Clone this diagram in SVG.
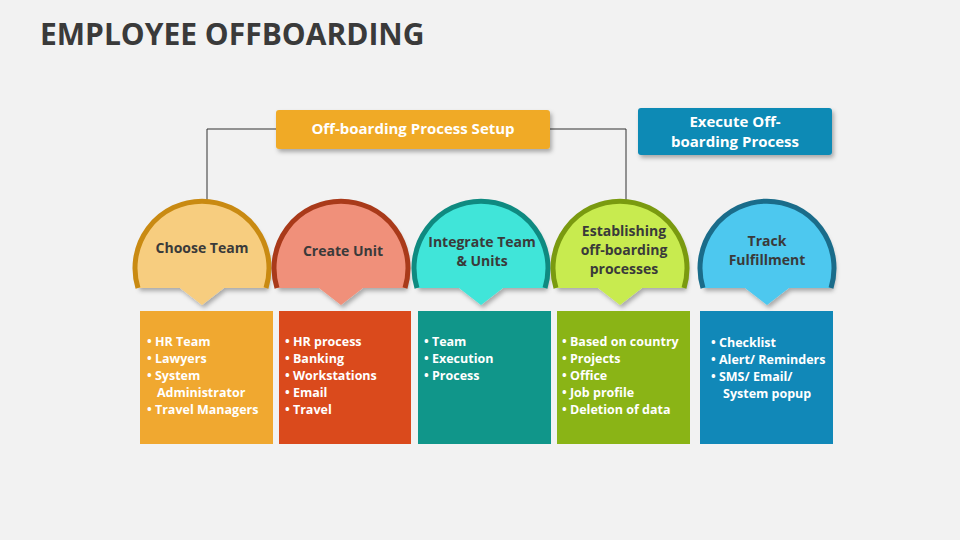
<svg xmlns="http://www.w3.org/2000/svg" width="960" height="540" viewBox="0 0 960 540">
<defs>
<style>
text{font-family:"Open Sans","Liberation Sans",sans-serif;font-weight:bold}
.t{fill:#3a3a3a;font-size:14px;text-anchor:middle}
.b{fill:#fff;font-size:12.5px}
.h{fill:#fff;font-size:15px;text-anchor:middle}
.arc{fill:none;stroke-width:5}
</style>
<filter id="sh" x="-20%" y="-20%" width="140%" height="150%"><feDropShadow dx="2" dy="3" stdDeviation="2" flood-color="#000" flood-opacity="0.3"/></filter>
<path id="bub" d="M-64,20 A67,67 0 1 1 64,20 L22,20 L0,37 L-22,20 Z"/>
<path id="arc" d="M-64,20 A67,67 0 1 1 64,20"/>
</defs>
<rect width="960" height="540" fill="#f2f2f2"/>
<text x="40" y="45" style="font-size:30px;fill:#3a3a3a">EMPLOYEE OFFBOARDING</text>
<g id="connectors" fill="none" stroke="#333" stroke-width="1">
<path d="M276,129 H207 V201"/>
<path d="M550,129 H626 V201"/>
</g>
<g id="setup"><rect x="276" y="110" width="274" height="39" rx="3" fill="#f0aa28" filter="url(#sh)"/><text class="h" x="413" y="134">Off-boarding Process Setup</text></g>
<g id="execute"><rect x="638" y="108" width="194" height="47" rx="3" fill="#0f8ab5" filter="url(#sh)"/><text class="h" x="735" y="127">Execute Off-</text><text class="h" x="735" y="147">boarding Process</text></g>
<g id="choose">
<use href="#bub" x="202" y="268" fill="#f7cd7f" filter="url(#sh)"/><use href="#arc" x="202" y="268" class="arc" stroke="#c98a12"/>
<text class="t" x="202" y="253">Choose Team</text>
<rect x="140" y="311" width="133" height="133" fill="#f0a830"/>
<text class="b"><tspan x="147" y="346">• HR Team</tspan><tspan x="147" y="363">• Lawyers</tspan><tspan x="147" y="380">• System</tspan><tspan x="157" y="397">Administrator</tspan><tspan x="147" y="414">• Travel Managers</tspan></text>
</g>
<g id="create">
<use href="#bub" x="341" y="268" fill="#f0907a" filter="url(#sh)"/><use href="#arc" x="341" y="268" class="arc" stroke="#a93a1a"/>
<text class="t" x="343" y="256">Create Unit</text>
<rect x="279" y="311" width="132" height="133" fill="#da4a1c"/>
<text class="b"><tspan x="285" y="346">• HR process</tspan><tspan x="285" y="363">• Banking</tspan><tspan x="285" y="380">• Workstations</tspan><tspan x="285" y="397">• Email</tspan><tspan x="285" y="414">• Travel</tspan></text>
</g>
<g id="integrate">
<use href="#bub" x="481" y="268" fill="#40e5d9" filter="url(#sh)"/><use href="#arc" x="481" y="268" class="arc" stroke="#0f8a80"/>
<text class="t" x="482" y="247">Integrate Team</text><text class="t" x="482" y="266">&amp; Units</text>
<rect x="418" y="311" width="133" height="133" fill="#10968a"/>
<text class="b"><tspan x="424" y="346">• Team</tspan><tspan x="424" y="363">• Execution</tspan><tspan x="424" y="380">• Process</tspan></text>
</g>
<g id="establish">
<use href="#bub" x="620" y="268" fill="#c8eb50" filter="url(#sh)"/><use href="#arc" x="620" y="268" class="arc" stroke="#7a9a10"/>
<text class="t" x="624" y="236">Establishing</text><text class="t" x="624" y="255">off-boarding</text><text class="t" x="624" y="274">processes</text>
<rect x="557" y="311" width="133" height="133" fill="#8ab416"/>
<text class="b"><tspan x="562" y="346">• Based on country</tspan><tspan x="562" y="363">• Projects</tspan><tspan x="562" y="380">• Office</tspan><tspan x="562" y="397">• Job profile</tspan><tspan x="562" y="414">• Deletion of data</tspan></text>
</g>
<g id="track">
<use href="#bub" x="767" y="268" fill="#4dc8ef" filter="url(#sh)"/><use href="#arc" x="767" y="268" class="arc" stroke="#1a6c8a"/>
<text class="t" x="767" y="246">Track</text><text class="t" x="767" y="265">Fulfillment</text>
<rect x="700" y="311" width="133" height="133" fill="#1188b8"/>
<text class="b"><tspan x="711" y="347">• Checklist</tspan><tspan x="711" y="364">• Alert/ Reminders</tspan><tspan x="711" y="381">• SMS/ Email/</tspan><tspan x="723" y="398">System popup</tspan></text>
</g>
</svg>
